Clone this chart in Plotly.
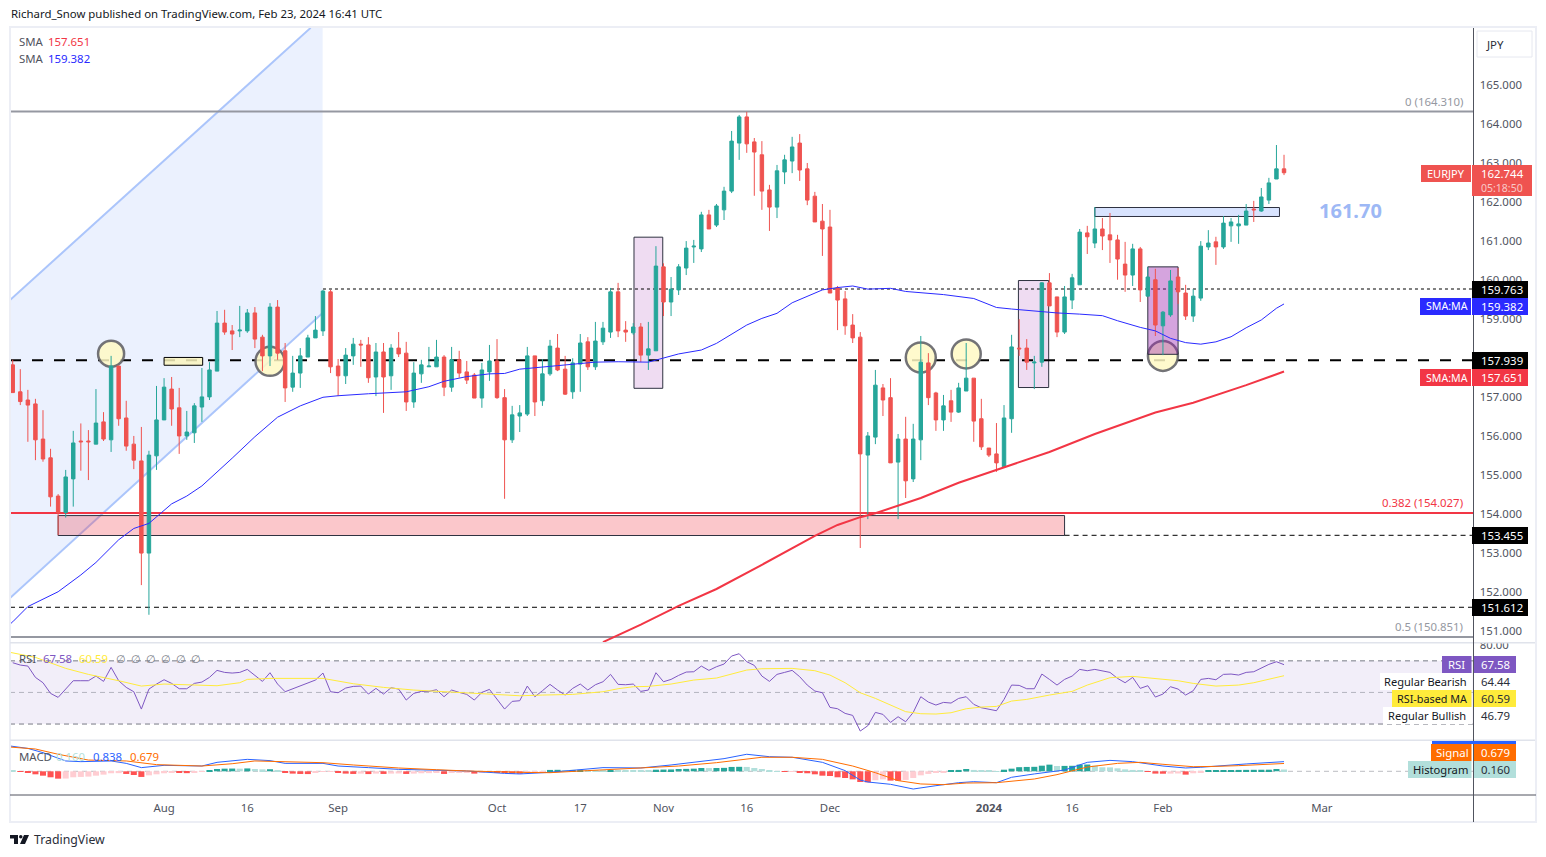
import plotly.graph_objects as go
from plotly.subplots import make_subplots

W = 1546
H = 857

# daily EURJPY candles
opens = [157.82,157.13,156.92,156.82,155.92,155.44,154.46,154.04,154.90,155.87,155.87,155.79,156.36,155.90,157.79,156.46,155.79,155.36,153.00,155.49,
156.41,157.20,156.72,156.00,156.08,156.74,157.00,157.66,158.89,158.69,158.69,158.69,159.15,158.53,158.05,159.30,158.18,157.25,157.61,158.02,
158.51,158.69,159.69,157.79,157.54,158.05,158.35,158.33,157.51,158.15,157.54,158.25,158.12,156.87,157.59,157.77,157.77,158.02,157.25,157.95,
157.64,157.56,156.97,157.64,157.92,156.98,155.90,156.51,156.56,158.05,156.90,157.59,158.25,157.71,157.13,157.84,158.41,157.77,158.41,158.66,
159.69,158.71,158.64,158.79,158.07,158.18,160.33,159.43,159.74,160.30,160.84,160.79,161.66,161.40,161.79,162.27,163.50,164.17,163.53,163.20,
162.30,161.86,162.76,163.04,163.50,162.84,162.14,161.50,161.35,159.79,159.51,158.84,158.53,155.51,155.97,157.23,156.98,155.33,155.92,154.90,
155.90,157.87,157.10,156.41,156.90,156.61,157.15,157.48,156.44,155.69,155.54,155.21,156.44,158.25,158.25,157.87,157.89,159.92,159.56,158.66,
159.48,159.87,161.20,160.94,161.30,161.15,161.02,160.40,160.12,160.79,159.58,160.00,158.82,159.10,160.07,159.66,159.07,159.53,160.84,160.97,
160.84,161.38,161.38,161.40,161.81,161.76,162.04,162.58,162.84]
highs = [157.95,157.71,157.18,156.95,156.66,155.67,154.51,155.13,156.13,156.32,156.15,157.20,156.61,158.05,157.79,156.90,156.00,156.23,155.62,157.28,
157.48,157.51,157.23,156.64,156.84,157.74,157.89,159.20,159.23,158.84,159.33,159.25,159.30,158.59,159.40,159.48,158.38,158.05,158.25,158.59,
159.07,159.74,159.74,157.97,158.25,158.51,158.46,158.53,158.38,158.38,158.35,158.66,158.41,157.89,157.95,158.28,158.46,158.07,158.28,158.18,
157.92,157.61,157.87,158.33,158.48,157.20,156.77,156.79,158.28,158.05,157.97,158.46,158.61,158.05,157.99,158.61,158.53,158.92,158.92,159.79,
159.92,158.94,158.89,158.89,158.92,160.86,160.42,160.07,160.40,160.99,161.02,161.74,161.79,161.94,162.38,163.81,164.22,164.30,163.63,163.55,
162.43,162.94,163.20,163.66,163.73,162.99,162.25,161.94,161.79,159.84,159.71,159.12,158.66,156.10,157.69,157.33,157.48,156.05,156.49,156.31,
158.56,158.12,157.13,157.05,157.18,157.36,158.38,157.48,156.95,155.69,156.33,156.79,158.59,158.99,158.48,158.05,159.94,160.17,159.56,159.84,
160.15,161.30,161.38,161.86,161.58,161.71,161.15,160.97,160.92,160.84,160.33,160.28,159.20,160.25,160.30,159.87,159.76,160.99,161.27,161.10,
161.63,161.58,161.66,161.94,162.02,162.35,162.61,163.45,163.20]
lows = [157.11,156.79,155.85,155.38,155.34,154.19,153.46,153.91,154.19,155.11,154.87,155.79,155.87,155.59,156.26,155.62,155.15,152.18,151.42,155.13,
156.41,156.26,155.54,155.90,155.82,156.36,156.92,157.66,158.59,158.20,158.53,158.64,158.25,157.66,157.79,157.95,156.87,157.13,157.23,158.02,
158.51,158.56,157.61,157.02,157.33,157.82,157.77,157.36,157.02,156.59,157.18,158.02,156.64,156.72,157.36,157.77,157.77,157.02,157.13,157.49,
157.33,156.97,156.72,157.41,156.95,154.39,155.82,156.10,156.51,156.51,156.77,157.54,157.66,157.05,156.95,157.13,157.69,157.69,158.33,158.51,
158.53,158.41,158.59,157.89,157.69,158.18,159.07,159.07,159.61,160.12,160.43,160.71,161.30,161.35,161.53,162.22,163.07,163.25,162.15,161.79,
161.25,161.58,162.45,162.73,162.53,161.91,161.48,160.61,159.66,158.71,158.59,158.38,153.13,153.87,155.79,156.51,155.31,153.87,154.41,154.82,
155.38,156.79,156.13,156.13,156.36,156.59,157.15,155.85,155.64,155.46,155.08,155.21,156.08,158.05,157.69,157.20,157.77,159.33,158.53,158.61,
159.25,159.87,160.66,160.81,160.76,160.43,160.00,159.69,159.84,159.43,159.58,158.56,158.07,159.05,159.38,158.97,158.92,159.46,160.76,160.38,
160.79,160.97,160.92,161.40,161.48,161.74,161.94,162.58,162.68]
closes = [157.11,156.88,156.79,155.90,155.41,154.44,154.04,154.95,155.82,155.85,155.85,156.33,155.92,157.79,156.44,155.74,155.38,153.00,155.51,156.41,
157.25,156.69,156.00,156.10,156.77,157.00,157.69,158.89,158.66,158.61,158.71,159.15,158.48,158.05,159.30,158.12,157.23,157.61,158.05,158.51,
158.71,159.71,157.77,157.54,158.07,158.35,158.33,157.49,158.15,157.51,158.25,158.10,156.87,157.61,157.82,157.79,158.02,157.25,157.95,157.61,
157.43,156.97,157.69,157.92,156.98,155.90,156.54,156.59,158.05,156.87,157.59,158.30,157.69,157.07,157.87,158.38,157.77,158.43,158.76,159.69,
158.69,158.66,158.79,158.07,158.23,160.35,159.43,159.76,160.33,160.81,160.86,161.66,161.30,161.89,162.27,163.55,164.17,163.48,163.27,162.27,
161.86,162.79,163.07,163.40,162.81,162.04,161.48,161.30,159.66,159.48,158.82,158.51,155.54,156.00,157.30,156.92,155.31,155.92,154.85,155.92,
157.89,156.98,156.41,156.77,156.61,157.23,157.48,156.38,155.72,155.51,155.31,156.46,158.28,158.23,157.89,157.89,159.92,159.33,158.66,159.56,
160.05,161.22,161.10,161.30,161.12,161.02,160.53,160.12,160.79,159.74,160.07,158.84,159.17,159.97,159.69,159.07,159.58,160.86,160.94,160.84,
161.45,161.48,161.43,161.76,161.79,162.12,162.48,162.84,162.74]

sma50_x = [-1,0,2,6,9,11,14,16,18,21,23,25,29,32,35,38,41,43,47,52,55,57,60,63,65,67,72,77,80,84,88,91,93,95,97,99,101,103,105,107,109,111,113,116,118,120,123,127,130,132,135,138,141,144,146,149,151,153,155,157,159,161,163,165,167,168]
sma50 = [151.07,151.24,151.63,152.01,152.44,152.76,153.34,153.63,153.76,154.26,154.46,154.72,155.43,155.98,156.48,156.77,156.99,157.03,157.08,157.13,157.26,157.40,157.52,157.59,157.60,157.71,157.80,157.89,157.90,157.89,158.10,158.20,158.37,158.60,158.84,159.01,159.14,159.41,159.57,159.74,159.80,159.84,159.76,159.78,159.70,159.67,159.62,159.52,159.29,159.25,159.20,159.15,159.12,159.08,158.95,158.78,158.69,158.50,158.39,158.35,158.41,158.54,158.77,158.97,159.27,159.38]
sma200_x = [78,83,88,93,99,102,106,109,112,114,120,125,130,135,137,143,151,156,163,168]
sma200 = [150.72,151.17,151.65,152.08,152.70,153.02,153.44,153.72,153.92,154.02,154.41,154.80,155.13,155.47,155.59,156.05,156.60,156.85,157.30,157.65]

rsi = [68.81,67.34,66.70,59.53,56.15,49.40,46.87,51.93,57.42,57.42,57.42,60.37,57.00,65.86,57.42,53.20,50.46,39.48,52.14,55.31,
58.05,55.73,52.35,52.35,55.73,56.57,59.53,63.96,62.69,62.27,62.69,64.59,60.58,57.00,62.48,55.31,50.46,52.35,54.25,56.36,
57.84,62.27,50.46,49.82,52.78,53.83,54.04,48.98,52.57,48.98,52.99,52.14,45.18,49.40,50.67,50.67,51.72,47.29,51.51,50.03,
48.77,45.18,50.03,51.93,46.02,39.48,44.34,44.76,54.04,47.29,51.09,55.10,51.51,48.35,52.57,55.31,51.51,54.89,56.78,61.43,
55.10,54.89,55.31,50.67,51.51,62.48,56.78,58.26,60.79,62.90,63.11,66.70,63.96,66.28,67.97,73.03,74.51,69.45,67.12,60.37,
57.00,61.43,62.69,63.96,59.95,54.67,50.88,49.82,40.54,39.69,36.74,35.47,25.56,28.93,37.37,36.11,31.04,34.63,31.46,37.37,
47.29,43.91,42.02,43.70,43.28,46.23,47.29,42.44,40.33,39.48,38.43,45.60,54.67,54.46,52.35,52.35,61.64,58.26,54.67,58.26,
60.37,64.59,63.75,64.59,63.75,62.69,58.90,56.15,59.53,52.57,54.25,47.08,48.98,53.62,52.14,48.35,51.09,58.26,58.90,58.05,
61.43,61.64,61.01,62.69,63.11,65.44,67.76,69.45,67.58]
rsi_ma_x = [-1,3,7,10,14,17,20,23,27,30,31,34,41,45,49,53,57,61,67,70,74,78,80,82,84,87,90,93,95,97,99,103,106,108,110,112,114,116,118,120,122,124,126,128,130,132,134,137,140,142,145,148,151,154,156,159,162,164,168]
rsi_ma = [76.00,72.19,65.23,61.43,57.42,54.04,55.31,54.89,54.25,56.15,58.26,58.89,58.89,55.52,53.20,51.51,50.46,49.40,47.91,48.35,48.76,50.46,52.35,53.62,53.83,55.31,57.84,59.11,61.43,64.17,65.02,65.23,63.76,61.00,56.15,49.81,46.23,42.02,37.84,36.54,36.33,37.17,39.68,40.75,41.17,44.55,45.60,48.35,50.67,54.67,59.32,60.17,58.69,57.42,55.73,54.04,54.67,56.15,60.59]

macd_x = [-1,2,4,7,9,13,15,17,20,25,27,31,34,36,41,43,47,51,55,60,65,67,71,74,78,83,87,94,97,100,103,107,110,112,113,116,119,122,125,127,130,132,134,135,139,142,145,148,152,155,157,159,163,168]
macd = [2.26,1.99,1.62,0.90,0.84,0.90,0.69,0.32,0.52,0.46,0.78,1.04,0.93,0.69,0.69,0.46,0.32,0.17,0.11,0.03,-0.18,-0.23,-0.09,0.06,0.32,0.29,0.55,1.10,1.48,1.27,1.22,0.78,0.06,-0.76,-0.93,-1.13,-1.54,-1.25,-0.99,-0.90,-0.99,-0.52,-0.32,-0.23,0.11,0.78,0.95,0.84,0.46,0.29,0.35,0.46,0.64,0.84]
signal_x = [-1,3,6,10,15,19,25,29,32,35,41,45,51,56,60,67,71,76,82,88,93,99,103,107,111,114,117,120,123,126,130,134,135,138,142,146,149,152,156,159,162,168]
signal = [2.14,1.94,1.48,0.98,0.90,0.58,0.46,0.66,0.90,0.84,0.75,0.55,0.29,0.14,0.03,-0.09,-0.12,0.06,0.29,0.46,0.75,1.22,1.22,1.04,0.46,-0.12,-0.81,-1.10,-1.16,-1.02,-0.99,-0.70,-0.67,-0.29,0.37,0.69,0.78,0.61,0.40,0.43,0.49,0.68]
hist = [0.09,-0.03,-0.12,-0.26,-0.38,-0.52,-0.64,-0.63,-0.52,-0.49,-0.46,-0.38,-0.29,-0.17,-0.16,-0.23,-0.32,-0.49,-0.35,-0.26,
-0.17,-0.14,-0.15,-0.16,-0.09,-0.06,0.03,0.20,0.23,0.24,0.23,0.25,0.20,0.17,0.18,0.03,-0.12,-0.20,-0.23,-0.24,
-0.14,-0.06,-0.03,-0.12,-0.20,-0.23,-0.20,-0.24,-0.20,-0.23,-0.20,-0.19,-0.23,-0.20,-0.17,-0.16,-0.15,-0.23,-0.14,-0.12,
-0.11,-0.20,-0.12,-0.06,-0.09,-0.14,-0.20,-0.21,-0.12,-0.09,-0.03,0.12,0.13,0.03,0.12,0.13,0.09,0.08,0.07,0.09,
0.08,0.07,0.06,0.05,0.04,0.14,0.15,0.16,0.20,0.21,0.23,0.29,0.28,0.29,0.30,0.38,0.39,0.38,0.29,0.20,
0.03,0.02,-0.03,-0.02,-0.12,-0.17,-0.26,-0.38,-0.41,-0.52,-0.58,-0.70,-0.93,-0.96,-0.78,-0.70,-0.81,-0.82,-0.75,-0.58,
-0.35,-0.23,-0.14,-0.12,0.06,0.12,0.20,0.12,0.09,0.03,0.02,0.14,0.23,0.36,0.38,0.39,0.49,0.58,0.46,0.47,
0.48,0.58,0.59,0.49,0.35,0.34,0.26,0.17,0.12,0.03,-0.03,-0.20,-0.21,-0.20,-0.19,-0.29,-0.17,-0.12,0.03,0.04,
0.11,0.115,0.12,0.125,0.13,0.135,0.14,0.20,0.16]

tick_pos = [20,31,43,64,75,86,97,108,129,140,152,173]
tick_text = ["Aug","16","Sep","Oct","17","Nov","16","Dec","<b>2024</b>","16","Feb","Mar"]
# 158 sits fully under the 157.939 badge on the chart
price_ticks = [151,152,153,154,155,156,157,159,160,161,162,163,164,165]

fib_0 = 164.31
fib_382 = 154.027
fib_50 = 150.851
support = 157.939
pivot = 159.763
level_a = 153.455
level_b = 151.612

x_left, x_right = -0.36, 193.04
bars = list(range(len(closes)))
FONT = "Noto Sans"
TEXT_SIZE = 11.4


def px(x):
    return x / W


def py(y):
    return 1 - y / H


fig = make_subplots(rows=3, cols=1, shared_xaxes=True, vertical_spacing=0)

fig.add_trace(go.Candlestick(x=bars, open=opens, high=highs, low=lows, close=closes,
                             increasing=dict(line=dict(color="#26a69a", width=1), fillcolor="#26a69a"),
                             decreasing=dict(line=dict(color="#ef5350", width=1), fillcolor="#ef5350"),
                             whiskerwidth=0, showlegend=False), row=1, col=1)
fig.add_trace(go.Scatter(x=sma50_x, y=sma50, mode="lines", line=dict(color="#2a2aff", width=1)), row=1, col=1)
fig.add_trace(go.Scatter(x=sma200_x, y=sma200, mode="lines", line=dict(color="#f23645", width=2)), row=1, col=1)

fig.add_trace(go.Scatter(x=bars, y=rsi, mode="lines", line=dict(color="#7e57c2", width=1)), row=2, col=1)
fig.add_trace(go.Scatter(x=rsi_ma_x, y=rsi_ma, mode="lines", line=dict(color="#ffeb3b", width=1)), row=2, col=1)

# histogram colour follows the direction of the bar
hist_colors = []
for i, v in enumerate(hist):
    prev = hist[i - 1] if i > 0 else 0.2
    if v >= 0:
        hist_colors.append("#26a69a" if v > prev else "#b2dfdb")
    else:
        hist_colors.append("#ffcdd2" if v > prev else "#ff5252")
fig.add_trace(go.Bar(x=bars, y=hist, marker=dict(color=hist_colors, line=dict(width=0)), width=0.8), row=3, col=1)
fig.add_trace(go.Scatter(x=macd_x, y=macd, mode="lines", line=dict(color="#2962ff", width=1)), row=3, col=1)
fig.add_trace(go.Scatter(x=signal_x, y=signal, mode="lines", line=dict(color="#ff6d00", width=1)), row=3, col=1)


def hline(level, color, width, dash="solid", start=x_left, yref="y"):
    fig.add_shape(type="line", xref="x", yref=yref, x0=start, x1=x_right, y0=level, y1=level,
                  line=dict(color=color, width=width, dash=dash), layer="below")


def box(x0, x1, y0, y1, fill, border="#2f3241"):
    fig.add_shape(type="rect", xref="x", yref="y", x0=x0, x1=x1, y0=y0, y1=y1,
                  fillcolor=fill, line=dict(color=border, width=1), layer="below")


def circle(cx, cy, rx, ry):
    fig.add_shape(type="circle", xref="x", yref="y", x0=cx - rx, x1=cx + rx, y0=cy - ry, y1=cy + ry,
                  fillcolor="rgba(255,249,196,0.85)", line=dict(color="rgba(100,100,105,0.9)", width=2.5), layer="below")


# blue channel
fig.add_shape(type="path", xref="x", yref="y", layer="below", fillcolor="#ebf1fe", line=dict(width=0),
              path=f"M {x_left} 159.48 L 39.37 166.45 L 40.95 166.45 L 40.95 159.15 L {x_left} 151.85 Z")
for p in [(x_left, 159.48, 39.37, 166.45), (x_left, 151.85, 40.95, 159.15)]:
    fig.add_shape(type="line", xref="x", yref="y", x0=p[0], y0=p[1], x1=p[2], y1=p[3], layer="below",
                  line=dict(color="#abc5fb", width=2))

box(6, 139, 153.45, 153.96, "rgba(242,54,69,0.28)")
box(143, 167.4, 161.62, 161.85, "#d8e3fe")
box(82.1, 85.9, 157.22, 161.09, "rgba(156,39,176,0.16)")
box(132.9, 136.9, 157.24, 159.98, "rgba(156,39,176,0.16)")
hline(fib_0, "#9598a1", 2)
hline(fib_50, "#9598a1", 2)
hline(fib_382, "#f23645", 2)
hline(support, "#000000", 2, "11px,11px")
hline(pivot, "#000000", 1, "dot", start=41)
hline(level_a, "#000000", 1, "5px,4px", start=139)
hline(level_b, "#000000", 1, "5px,4px")
box(20, 25.1, 157.81, 158.01, "rgba(250,245,190,0.85)", "#000000")
circle(13, 158.106, 1.72, 0.333)
circle(34, 157.91, 1.92, 0.371)
circle(120, 158.01, 1.98, 0.384)
circle(126, 158.10, 1.92, 0.371)
circle(152, 158.05, 1.98, 0.384)
box(150, 154, 158.09, 160.33, "rgba(156,39,176,0.42)")

# rsi band and levels
fig.add_shape(type="rect", xref="x", yref="y2", x0=x_left, x1=x_right, y0=30, y1=70, layer="below",
              fillcolor="rgba(126,87,194,0.1)", line=dict(width=0))
hline(70, "#787b86", 1, "5px,4px", yref="y2")
hline(50, "rgba(120,123,134,0.5)", 1, "5px,4px", yref="y2")
hline(30, "#787b86", 1, "5px,4px", yref="y2")
hline(0, "rgba(120,123,134,0.5)", 1, "5px,4px", yref="y3")


def panel(x0, y0, x1, y1, fill, border=None, bw=1):
    fig.add_shape(type="rect", xref="paper", yref="paper", x0=px(x0), x1=px(x1), y0=py(y0), y1=py(y1),
                  fillcolor=fill, line=dict(color=border, width=bw) if border else dict(width=0), layer="above")


def label(x, y, text, color="#131722", size=TEXT_SIZE, anchor="left"):
    fig.add_annotation(xref="paper", yref="paper", x=px(x), y=py(y), text=text, showarrow=False,
                       xanchor=anchor, yanchor="middle", borderpad=0, font=dict(family=FONT, size=size, color=color))


# frame
panel(1475, 637.5, 1534, 642.5, "#ffffff")
panel(10, 27, 1536, 822, "rgba(0,0,0,0)", "#eceef5", 2)
for y in [642.7, 740.3]:
    fig.add_shape(type="line", xref="paper", yref="paper", x0=px(10), x1=px(1535), y0=py(y), y1=py(y),
                  line=dict(color="#e0e3eb", width=1.5), layer="above")
fig.add_shape(type="line", xref="paper", yref="paper", x0=px(10), x1=px(1536), y0=py(795), y1=py(795),
              line=dict(color="#50535e", width=1), layer="above")
fig.add_shape(type="line", xref="paper", yref="paper", x0=px(1473.5), x1=px(1473.5), y0=py(28), y1=py(822),
              line=dict(color="#50535e", width=1), layer="above")
fig.add_shape(type="rect", xref="paper", yref="paper", x0=px(1477), x1=px(1532), y0=py(31), y1=py(57),
              fillcolor="#ffffff", line=dict(color="#e6e8f0", width=1), layer="above")

# price badges, left part is the name, right part the value
BLACK = "#000000"
panel(1421, 165, 1471, 182, "#ef5350")
panel(1472, 165, 1532, 196, "#ef5350")
panel(1472, 281, 1528, 298, BLACK)
panel(1420, 298, 1471, 315, "#2a2aff")
panel(1472, 298, 1528, 315, "#2a2aff")
panel(1472, 352, 1528, 369, BLACK)
panel(1420, 369, 1471, 386, "#f23645")
panel(1472, 369, 1528, 386, "#f23645")
panel(1472, 527, 1528, 544, BLACK)
panel(1472, 599, 1528, 616, BLACK)
panel(1442, 656, 1471.5, 673, "#7e57c2")
panel(1474, 656, 1516, 673, "#7e57c2")
panel(1380, 673, 1472.5, 690, "#ffffff")
panel(1392, 690, 1471.5, 707, "#ffeb3b")
panel(1474, 690, 1516, 707, "#ffeb3b")
panel(1383, 707, 1472.5, 724, "#ffffff")
panel(1432, 741, 1516, 744, "#2962ff")
panel(1431, 744, 1471.5, 761, "#ff6d00")
panel(1474, 744, 1516, 761, "#ff6d00")
panel(1408, 761, 1471.5, 778, "#b2dfdb")
panel(1474, 761, 1516, 778, "#b2dfdb")

label(10, 14, "Richard_Snow published on TradingView.com, Feb 23, 2024 16:41 UTC")
label(18, 41.5, "SMA", "#50535e")
label(47, 41.5, "157.651", "#f23645")
label(18, 58.5, "SMA", "#50535e")
label(47, 58.5, "159.382", "#2a2aff")
label(1485, 44, "JPY", "#2a2e39")
label(1463.5, 101.5, "0 (164.310)", "#9598a1", anchor="right")
label(1463.5, 502.5, "0.382 (154.027)", "#f23645", anchor="right")
label(1463.5, 626.5, "0.5 (150.851)", "#9598a1", anchor="right")
label(1318, 210, "<b>161.70</b>", "#9db8f5", 20)

for x, y, t, c, s in [(1425.5, 173.5, "EURJPY", "#ffffff", 11), (1480, 173.5, "162.744", "#ffffff", 11.4), (1480, 187.5, "05:18:50", "#f9c9c8", 10.5),
                      (1480, 289.5, "159.763", "#ffffff", 11.4), (1424.5, 306.5, "SMA:MA", "#ffffff", 10.6), (1480, 306.5, "159.382", "#ffffff", 11.4),
                      (1480, 360.5, "157.939", "#ffffff", 11.4), (1424.5, 377.5, "SMA:MA", "#ffffff", 10.6), (1480, 377.5, "157.651", "#ffffff", 11.4),
                      (1480, 535.5, "153.455", "#ffffff", 11.4), (1480, 607.5, "151.612", "#ffffff", 11.4),
                      (1447, 664.5, "RSI", "#ffffff", 11.4), (1480, 664.5, "67.58", "#ffffff", 11.4),
                      (1383, 681, "Regular Bearish", "#131722", 11.1), (1480, 681.5, "64.44", "#2a2e39", 11.4),
                      (1396, 698.5, "RSI-based MA", "#131722", 10.8), (1480, 698.5, "60.59", "#2a2e39", 11.4),
                      (1387, 715, "Regular Bullish", "#131722", 11.1), (1480, 715.5, "46.79", "#2a2e39", 11.4),
                      (1435, 752.5, "Signal", "#ffffff", 11.4), (1480, 752.5, "0.679", "#ffffff", 11.4),
                      (1412, 769.5, "Histogram", "#131722", 11.2), (1480, 769.5, "0.160", "#2a2e39", 11.4)]:
    label(x, y, t, c, s)

label(18, 658, "RSI", "#50535e")
label(42, 658, "67.58", "#7e57c2")
label(78, 658, "60.59", "#ffeb3b")
for x in [115, 130, 145, 160, 175, 190]:
    label(x, 658, "∅", "#787b86")
label(18, 756, "MACD", "#50535e")
label(55, 756, "0.160", "#b2dfdb")
label(92, 756, "0.838", "#2962ff")
label(129, 756, "0.679", "#ff6d00")

# tradingview logo and name
logo = (f"M {px(10)} {py(835)} L {px(18)} {py(835)} L {px(18)} {py(844)} L {px(14)} {py(844)} L {px(14)} {py(838.5)} L {px(10)} {py(838.5)} Z "
        f"M {px(24)} {py(835)} L {px(29)} {py(835)} L {px(25)} {py(844)} L {px(20)} {py(844)} Z")
fig.add_shape(type="path", xref="paper", yref="paper", path=logo, fillcolor="#131722", line=dict(width=0), layer="above")
fig.add_shape(type="circle", xref="paper", yref="paper", x0=px(19), x1=px(22.5), y0=py(835), y1=py(838.5),
              fillcolor="#131722", line=dict(width=0), layer="above")
label(33, 839, "TradingView", "#2a2e39", 12.3)

axis_font = dict(family=FONT, size=TEXT_SIZE, color="#50535e")
fig.update_xaxes(domain=[px(10), px(1473.5)], range=[x_left, x_right], showgrid=False, zeroline=False,
                 rangeslider_visible=False, showline=False)
fig.update_xaxes(tickmode="array", tickvals=tick_pos, ticktext=tick_text, tickfont=axis_font,
                 ticks="outside", ticklen=2, tickcolor="rgba(0,0,0,0)", row=3, col=1)
fig.update_yaxes(showgrid=False, zeroline=False, side="right", showline=False, tickfont=axis_font,
                 ticks="outside", ticklen=3, tickcolor="rgba(0,0,0,0)")
fig.update_yaxes(domain=[py(642.5), py(28)], range=[150.71, 166.447], tickmode="array",
                 tickvals=price_ticks, ticktext=[f"{v:.3f}" for v in price_ticks], row=1, col=1)
fig.update_yaxes(domain=[py(740), py(643)], range=[19.9, 81.3], tickmode="array",
                 tickvals=[80], ticktext=["80.00"], row=2, col=1)
fig.update_yaxes(domain=[py(795), py(741)], range=[-2.06, 2.635], showticklabels=False, row=3, col=1)

fig.update_layout(width=W, height=H, margin=dict(l=0, r=0, t=0, b=0, autoexpand=False), showlegend=False,
                  paper_bgcolor="#ffffff", plot_bgcolor="#ffffff", boxgap=0.35, bargap=0.2,
                  font=dict(family=FONT, size=TEXT_SIZE))

fig.write_html("out.html", config=dict(displayModeBar=False),
               post_script="document.body.style.margin='0';document.documentElement.style.overflow='hidden';")
